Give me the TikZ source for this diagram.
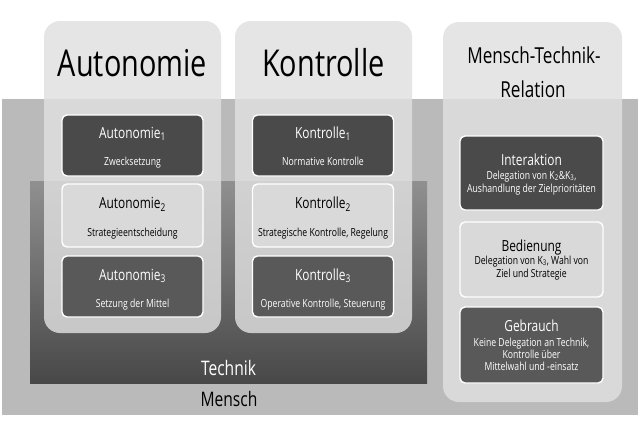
\documentclass[tikz,border=0pt]{standalone}
\usepackage{fontspec}
\setmainfont[FakeStretch=0.78]{Open Sans}
\definecolor{menschc}{HTML}{BABABA}
\definecolor{techtop}{HTML}{909090}
\definecolor{techbot}{HTML}{484848}
\definecolor{colc}{HTML}{E0E0E0}
\definecolor{darkc}{HTML}{4A4A4A}
\definecolor{darkd}{HTML}{595959}
\definecolor{lightc}{HTML}{D9D9D9}
\begin{document}
\begin{tikzpicture}[x=1pt,y=-1pt,
  band/.style={rectangle, inner sep=0pt, outer sep=0pt, draw=none},
  column/.style={rectangle, rounded corners=16pt, fill=colc, fill opacity=0.82, draw=none, inner sep=0pt, minimum width=177pt},
  ibox/.style={rectangle, rounded corners=5pt, draw=white, line width=1.4pt, inner sep=0pt, minimum width=141pt},
  darkbox/.style={ibox, fill=darkc},
  darkboxb/.style={ibox, fill=darkd},
  lightbox/.style={ibox, fill=lightc},
  lbl/.style={anchor=base, inner sep=0pt},
  bigtitle/.style={lbl, font=\fontsize{37}{44}\selectfont, text=black},
  midtitle/.style={lbl, font=\fontsize{22}{26}\selectfont, text=black},
  boxtitle/.style={lbl, font=\fontsize{15.3}{18}\selectfont},
  boxtext/.style={lbl, font=\fontsize{11.1}{13}\selectfont},
  bandlabel/.style={lbl, font=\fontsize{20}{24}\selectfont}
]
\useasboundingbox (0,0) rectangle (643,424);
\fill[white] (0,0) rectangle (643,424);

% bands
\node[band, fill=menschc, minimum width=636pt, minimum height=316pt] (mensch) at (320,257) {};
\node[band, top color=techtop, bottom color=techbot, minimum width=397pt, minimum height=202pt] (technik) at (228.5,282) {};
\node[bandlabel, text=white] (technikl) at (228.5,375) {Technik};
\node[bandlabel, text=black] (menschl) at (229,406) {Mensch};

% columns
\node[column, minimum height=312pt] (colA) at (132.5,177) {};
\node[column, minimum height=312pt] (colK) at (323.5,177) {};
\node[column, minimum width=179pt, minimum height=380pt] (colR) at (532.5,212) {};

% titles
\node[bigtitle] (tA) at (132.5,76) {Autonomie};
\node[bigtitle] (tK) at (323.5,76) {Kontrolle};
\node[midtitle] (tR1) at (534,63) {Mensch-Technik-};
\node[midtitle] (tR2) at (533,97) {Relation};

% Autonomie boxes
\node[darkbox, minimum height=61pt] (a1) at (132.5,145.5) {};
\node[lightbox, minimum height=63pt] (a2) at (132.5,215.5) {};
\node[darkboxb, minimum height=61pt] (a3) at (132.5,286.5) {};
\node[boxtitle, text=white] (a1t) at (132.5,138) {Autonomie\textsubscript{1}};
\node[boxtext, text=white] (a1s) at (132.5,165.5) {Zwecksetzung};
\node[boxtitle, text=black] (a2t) at (132.5,208.5) {Autonomie\textsubscript{2}};
\node[boxtext, text=black] (a2s) at (132.5,236) {Strategieentscheidung};
\node[boxtitle, text=white] (a3t) at (132.5,280) {Autonomie\textsubscript{3}};
\node[boxtext, text=white] (a3s) at (132.5,307) {Setzung der Mittel};

% Kontrolle boxes
\node[darkbox, minimum height=61pt] (k1) at (323,145.5) {};
\node[lightbox, minimum height=63pt] (k2) at (323,215.5) {};
\node[darkboxb, minimum height=61pt] (k3) at (323,286.5) {};
\node[boxtitle, text=white] (k1t) at (323,138) {Kontrolle\textsubscript{1}};
\node[boxtext, text=white] (k1s) at (323,165.5) {Normative Kontrolle};
\node[boxtitle, text=black] (k2t) at (323,208.5) {Kontrolle\textsubscript{2}};
\node[boxtext, text=black] (k2s) at (323,236) {Strategische Kontrolle, Regelung};
\node[boxtitle, text=white] (k3t) at (323,280) {Kontrolle\textsubscript{3}};
\node[boxtext, text=white] (k3s) at (323,307) {Operative Kontrolle, Steuerung};

% Relation boxes
\node[darkbox, minimum width=143pt, minimum height=74pt] (r1) at (531.5,173) {};
\node[lightbox, minimum width=143pt, minimum height=75pt] (r2) at (531.5,259.5) {};
\node[darkboxb, minimum width=143pt, minimum height=76pt] (r3) at (531.5,345) {};
\node[boxtitle, text=white] (r1t) at (531.5,165) {Interaktion};
\node[boxtext, text=white] (r1a) at (531.5,179) {Delegation von K\textsubscript{2}\&K\textsubscript{3},};
\node[boxtext, text=white] (r1b) at (531.5,192) {Aushandlung der Zielprioritäten};
\node[boxtitle, text=black] (r2t) at (531.5,251) {Bedienung};
\node[boxtext, text=black] (r2a) at (531.5,264) {Delegation von K\textsubscript{3}, Wahl von};
\node[boxtext, text=black] (r2b) at (531.5,277) {Ziel und Strategie};
\node[boxtitle, text=white] (r3t) at (531.5,331) {Gebrauch};
\node[boxtext, text=white] (r3a) at (531.5,346) {Keine Delegation an Technik,};
\node[boxtext, text=white] (r3b) at (531.5,358) {Kontrolle über};
\node[boxtext, text=white] (r3c) at (531.5,370.5) {Mittelwahl und -einsatz};
\end{tikzpicture}
\end{document}
